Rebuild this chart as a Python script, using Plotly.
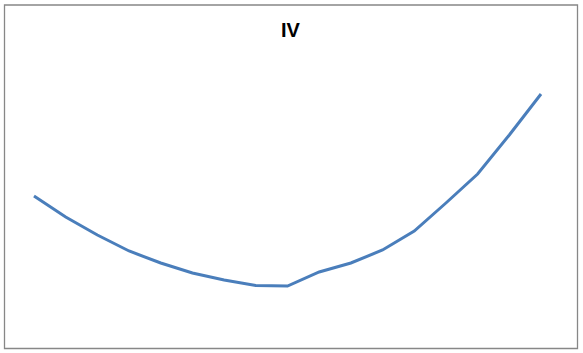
import plotly.graph_objects as go

strikes = list(range(17))
iv = [15.7, 13.6, 11.8, 10.2, 9.0, 8.0, 7.3, 6.75, 6.7, 8.1, 9.0, 10.3, 12.2, 15.0, 17.9, 21.8, 25.9]

W, H = 583, 353
fig = go.Figure()
fig.add_trace(go.Scatter(x=strikes, y=iv, mode="lines",
                         line=dict(color="#4A7EBB", width=3), hoverinfo="skip"))

px_per = (541 - 34) / 16
x0 = -34 / px_per
x1 = x0 + W / px_per

fig.update_layout(
    width=W, height=H,
    margin=dict(l=0, r=0, t=0, b=0),
    paper_bgcolor="white", plot_bgcolor="white",
    showlegend=False,
    xaxis=dict(range=[x0, x1], visible=False, domain=[0, 1]),
    yaxis=dict(range=[0, 35.3], visible=False, domain=[0, 1]),
    shapes=[dict(type="rect", xref="paper", yref="paper",
                 x0=4.5 / W, x1=577.5 / W, y0=1 - 348.5 / H, y1=1 - 5 / H,
                 line=dict(color="#878787", width=1.3), fillcolor="rgba(0,0,0,0)")],
    annotations=[dict(text="<b>IV</b>", x=290.5 / W, y=1 - 30 / H, xref="paper", yref="paper",
                      showarrow=False, xanchor="center", yanchor="middle",
                      font=dict(family="Liberation Sans, Arial, sans-serif", size=20, color="#000000"))],
)

fig.write_html("out.html")
